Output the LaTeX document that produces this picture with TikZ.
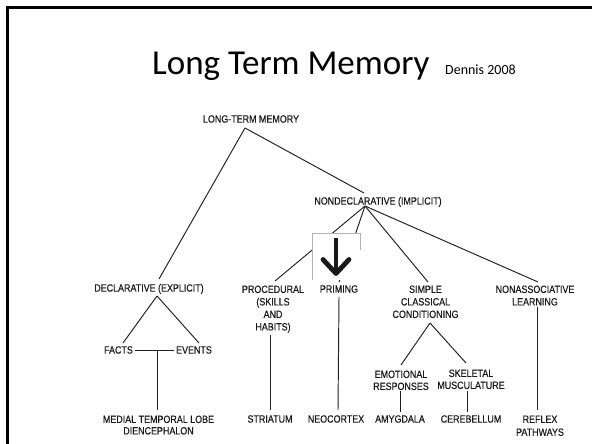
\documentclass[tikz,border=0pt]{standalone}
\usepackage{fontspec}
\setmainfont{Carlito}
\newfontfamily\diag[FakeStretch=0.85, FakeBold=0.4]{Liberation Sans}
\begin{document}
\begin{tikzpicture}[x=1pt,y=-1pt,
  lbl/.style={font=\diag\fontsize{10.5}{12.5}\selectfont, text=black!90, inner sep=0pt, align=center},
  conn/.style={draw=black!88, line width=0.95pt},
  frameline/.style={draw=black, line width=2.6pt}]
\useasboundingbox (0,0) rectangle (592,444);
\fill[white] (0,0) rectangle (592,444);
% slide frame (top and left edges visible)
\coordinate (fTR) at (592,7.5);
\coordinate (fTL) at (7.5,7.5);
\coordinate (fBL) at (7.5,444);
\draw[frameline] (fTR) -- (fTL) -- (fBL);
% title
\node[anchor=base west, inner sep=0pt, font=\fontsize{35}{38}\selectfont] (title) at (152,74.5) {Long Term Memory};
\node[anchor=base west, inner sep=0pt, font=\fontsize{14}{16}\selectfont] (cite) at (445,74.5) {Dennis 2008};
% labels
\node[lbl, anchor=base] (ltm) at (251,122.6) {LONG-TERM MEMORY};
\node[lbl, anchor=base] (nd) at (378,204.6) {NONDECLARATIVE (IMPLICIT)};
\node[lbl, anchor=base] (decl) at (149,291.6) {DECLARATIVE (EXPLICIT)};
\node[lbl, anchor=north] (proc) at (273,285.4) {PROCEDURAL\\(SKILLS\\AND\\HABITS)};
\node[lbl, anchor=base] (prim) at (339,292.6) {PRIMING};
\node[lbl, anchor=north] (simp) at (425.5,285.4) {SIMPLE\\CLASSICAL\\CONDITIONING};
\node[lbl, anchor=north] (nona) at (535,285.4) {NONASSOCIATIVE\\LEARNING};
\node[lbl, anchor=base] (facts) at (118.5,353.6) {FACTS};
\node[lbl, anchor=base] (events) at (194,353.6) {EVENTS};
\node[lbl, anchor=north, font=\diag\fontsize{10.5}{11.5}\selectfont] (medial) at (158.5,415.4) {MEDIAL TEMPORAL LOBE\\DIENCEPHALON};
\node[lbl, anchor=base] (striatum) at (270,422.6) {STRIATUM};
\node[lbl, anchor=base] (neo) at (336,422.6) {NEOCORTEX};
\node[lbl, anchor=north, font=\diag\fontsize{10.5}{12}\selectfont] (emo) at (401,370.4) {EMOTIONAL\\RESPONSES};
\node[lbl, anchor=north, font=\diag\fontsize{10.5}{12}\selectfont] (skel) at (471,369.4) {SKELETAL\\MUSCULATURE};
\node[lbl, anchor=base] (amyg) at (400,422.6) {AMYGDALA};
\node[lbl, anchor=base] (cereb) at (471,422.6) {CEREBELLUM};
\node[lbl, anchor=north, font=\diag\fontsize{10.5}{13}\selectfont] (reflex) at (540,415.4) {REFLEX\\PATHWAYS};
% connector end points
\coordinate (ltmA) at (245,128);
\coordinate (declT) at (159,279);
\coordinate (ndT) at (364,193);
\coordinate (ndA) at (365,206);
\coordinate (procT) at (275,281);
\coordinate (primT) at (339,282);
\coordinate (simpT) at (428,282);
\coordinate (nonaT) at (538,282);
\coordinate (declA) at (157,296);
\coordinate (factsT) at (123,343);
\coordinate (eventsT) at (199,343);
\coordinate (feM) at (157,351);
\coordinate (medT) at (157,410);
\coordinate (procB) at (270,335);
\coordinate (striT) at (270,410);
\coordinate (primB) at (339,297);
\coordinate (neoT) at (338,410);
\coordinate (simpA) at (430,323);
\coordinate (emoT) at (401,365);
\coordinate (skelT) at (466,363);
\coordinate (emoB) at (400,391);
\coordinate (amygT) at (400,412);
\coordinate (skelB) at (467,391);
\coordinate (cerebT) at (467,412);
\coordinate (nonaB) at (537,307);
\coordinate (reflT) at (537,410);
% connectors
\draw[conn] (ltmA) -- (declT);
\draw[conn] (ltmA) -- (ndT);
\draw[conn] (ndA) -- (procT);
\draw[conn] (ndA) -- (primT);
\draw[conn] (ndA) -- (simpT);
\draw[conn] (ndA) -- (nonaT);
\draw[conn] (declA) -- (factsT);
\draw[conn] (declA) -- (eventsT);
\draw[conn, shorten <=2pt, shorten >=2pt] (facts) -- (events);
\draw[conn] (feM) -- (medT);
\draw[conn] (procB) -- (striT);
\draw[conn] (primB) -- (neoT);
\draw[conn] (simpA) -- (emoT);
\draw[conn] (simpA) -- (skelT);
\draw[conn] (emoB) -- (amygT);
\draw[conn] (skelB) -- (cerebT);
\draw[conn] (nonaB) -- (reflT);
% arrow picture box
\coordinate (bx1) at (312,233);
\coordinate (bx2) at (360,280);
\fill[white] (bx1) rectangle (bx2);
\coordinate (bxBL) at (312,280);
\coordinate (bxTR) at (360,233);
\coordinate (bxR) at (360,250);
\draw[gray!60, line width=0.6pt] (bxBL) -- (bx1) -- (bxTR) -- (bxR);
\coordinate (arT) at (336,238);
\coordinate (arB) at (336,273.5);
\coordinate (arL) at (323,259.5);
\coordinate (arR) at (349,259.5);
\draw[black!90, line width=4.8pt] (arT) -- (arB);
\draw[black!90, line width=4.8pt, line join=round, line cap=round] (arL) -- (arB) -- (arR);
\end{tikzpicture}
\end{document}
